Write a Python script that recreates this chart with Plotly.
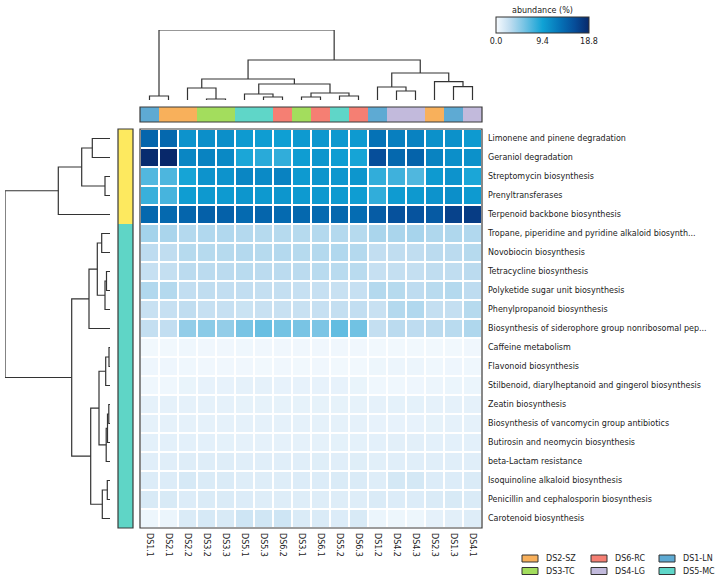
import plotly.graph_objects as go

W, H = 715, 579

# ---------------- data ----------------
col_labels = ["DS1.1", "DS2.1", "DS2.2", "DS3.2", "DS3.3", "DS5.1", "DS5.3", "DS6.2", "DS3.1",
              "DS6.1", "DS5.2", "DS6.3", "DS1.2", "DS4.2", "DS4.3", "DS2.3", "DS1.3", "DS4.1"]

row_labels = [
    "Limonene and pinene degradation",
    "Geraniol degradation",
    "Streptomycin biosynthesis",
    "Prenyltransferases",
    "Terpenoid backbone biosynthesis",
    "Tropane, piperidine and pyridine alkaloid biosynth...",
    "Novobiocin biosynthesis",
    "Tetracycline biosynthesis",
    "Polyketide sugar unit biosynthesis",
    "Phenylpropanoid biosynthesis",
    "Biosynthesis of siderophore group nonribosomal pep...",
    "Caffeine metabolism",
    "Flavonoid biosynthesis",
    "Stilbenoid, diarylheptanoid and gingerol biosynthesis",
    "Zeatin biosynthesis",
    "Biosynthesis of vancomycin group antibiotics",
    "Butirosin and neomycin biosynthesis",
    "beta-Lactam resistance",
    "Isoquinoline alkaloid biosynthesis",
    "Penicillin and cephalosporin biosynthesis",
    "Carotenoid biosynthesis",
]

limonene      = [14.0, 13.8, 10.5, 10.8, 10.8, 10.0, 9.8, 9.6, 10.0, 10.2, 10.1, 10.0, 13.0, 12.0, 11.8, 10.7, 10.7, 10.0]
geraniol      = [18.5, 18.8, 11.5, 11.7, 11.3, 9.0, 8.5, 8.2, 9.8, 10.3, 9.8, 9.2, 15.8, 13.8, 14.2, 11.7, 10.8, 10.7]
streptomycin  = [7.0, 7.2, 9.2, 10.5, 10.5, 11.5, 11.2, 11.8, 10.0, 10.4, 10.2, 10.3, 8.2, 7.7, 7.1, 10.0, 10.5, 9.0]
prenyltrans   = [7.9, 7.4, 9.8, 10.1, 10.0, 10.3, 10.1, 10.3, 10.0, 10.1, 10.0, 9.8, 8.2, 9.9, 10.1, 10.5, 10.8, 10.0]
terpenoid     = [13.8, 13.7, 14.0, 14.4, 14.3, 13.6, 14.0, 13.6, 13.8, 13.6, 13.8, 13.5, 14.7, 15.6, 15.4, 14.9, 16.8, 17.2]
tropane       = [3.9, 3.7, 3.3, 3.4, 3.4, 3.3, 3.2, 3.2, 3.2, 3.3, 3.3, 3.2, 3.7, 3.7, 3.8, 3.5, 3.5, 3.4]
novobiocin    = [2.9, 2.8, 3.2, 3.2, 3.2, 3.3, 3.2, 3.3, 3.2, 3.3, 3.4, 3.3, 2.7, 2.8, 2.8, 3.0, 3.0, 3.2]
tetracycline  = [2.5, 2.6, 3.0, 3.0, 3.0, 3.1, 3.0, 3.0, 3.0, 3.1, 3.1, 3.1, 2.5, 2.6, 2.6, 2.8, 2.8, 3.0]
polyketide    = [3.4, 3.3, 2.7, 2.8, 2.7, 2.7, 2.6, 2.6, 2.5, 2.5, 2.4, 2.5, 3.3, 3.2, 2.9, 3.1, 3.3, 2.9]
phenylprop    = [2.4, 2.5, 2.8, 2.5, 2.5, 2.3, 2.4, 2.4, 2.4, 2.5, 2.6, 2.7, 2.4, 3.3, 3.4, 2.6, 2.6, 3.2]
siderophore   = [2.6, 2.7, 4.6, 4.9, 4.6, 5.6, 6.2, 5.8, 5.6, 5.5, 6.4, 5.9, 2.6, 3.0, 2.9, 3.0, 3.1, 3.5]
caffeine      = [0.3, 0.3, 0.4, 0.35, 0.35, 0.4, 0.35, 0.35, 0.35, 0.35, 0.35, 0.35, 0.3, 0.3, 0.3, 0.3, 0.3, 0.35]
flavonoid     = [0.45, 0.45, 0.4, 0.35, 0.35, 0.35, 0.3, 0.35, 0.3, 0.35, 0.3, 0.3, 0.5, 0.55, 0.55, 0.4, 0.45, 0.4]
stilbenoid    = [0.4, 0.4, 0.7, 0.8, 0.8, 0.9, 0.9, 0.8, 0.8, 0.8, 0.8, 0.7, 0.4, 0.4, 0.45, 0.55, 0.6, 0.6]
zeatin        = [0.9, 0.9, 0.9, 0.9, 0.9, 0.85, 0.85, 0.85, 0.85, 0.85, 0.85, 0.85, 0.9, 0.95, 0.95, 0.9, 0.9, 0.9]
vancomycin    = [0.9, 0.9, 0.9, 0.9, 0.9, 0.9, 0.9, 0.9, 0.9, 0.9, 0.9, 0.9, 0.8, 0.8, 0.8, 0.85, 0.9, 0.9]
butirosin     = [1.0, 1.0, 1.0, 1.0, 0.95, 0.9, 0.9, 0.9, 0.9, 0.9, 0.95, 0.95, 1.0, 1.1, 1.1, 1.0, 1.0, 1.0]
betalactam    = [1.2, 1.2, 1.3, 1.3, 1.3, 1.2, 1.2, 1.2, 1.2, 1.25, 1.2, 1.25, 1.15, 1.2, 1.2, 1.2, 1.2, 1.2]
isoquinoline  = [1.4, 1.4, 1.7, 1.5, 1.5, 1.3, 1.3, 1.3, 1.4, 1.4, 1.5, 1.5, 1.3, 1.8, 1.8, 1.4, 1.4, 1.5]
penicillin    = [1.6, 1.6, 1.4, 1.5, 1.5, 1.4, 1.3, 1.3, 1.3, 1.3, 1.3, 1.3, 1.5, 1.4, 1.4, 1.5, 1.6, 1.5]
carotenoid    = [0.5, 0.6, 1.5, 1.7, 1.6, 2.1, 2.0, 2.1, 1.5, 1.5, 1.4, 1.6, 0.6, 0.5, 0.5, 0.9, 1.1, 1.3]

group_names = ["DS1-LN", "DS2-SZ", "DS3-TC", "DS4-LG", "DS5-MC", "DS6-RC"]
group_colors = ["#5eaad3", "#f8b05b", "#a3dd5d", "#c2badc", "#5fd6c8", "#f57f73"]
legend_order = ["DS2-SZ", "DS3-TC", "DS6-RC", "DS4-LG", "DS1-LN", "DS5-MC"]

row_cluster = [0] * 5 + [1] * 16
row_cluster_colors = ["#fde95f", "#5fd5c6"]

cbar_ticks = [0.0, 9.4, 18.8]

# linkage (child a, child b, merge height); leaves in displayed order, new nodes n, n+1, ...
col_link = [
    (3, 4, 1), (6, 7, 3), (8, 9, 3), (0, 1, 4), (10, 11, 4), (5, 19, 6), (20, 22, 7),
    (13, 14, 9), (2, 18, 12), (12, 25, 13), (16, 17, 13.3), (23, 24, 16), (15, 28, 18.3),
    (26, 29, 21), (27, 30, 27), (31, 32, 40), (21, 33, 70),
]
row_link = [
    (11, 12, 1), (14, 15, 1.2), (22, 16, 2.5), (7, 8, 3.5), (18, 19, 2.7), (23, 17, 3.8),
    (2, 3, 5), (24, 9, 5), (21, 13, 4.3), (5, 6, 8.3), (25, 20, 7.7), (29, 26, 11),
    (30, 28, 12.7), (0, 1, 17.7), (32, 31, 19.3), (33, 10, 21), (34, 27, 28.3),
    (36, 35, 38.3), (37, 4, 51.7), (38, 39, 105),
]

values = [limonene, geraniol, streptomycin, prenyltrans, terpenoid, tropane, novobiocin,
          tetracycline, polyketide, phenylprop, siderophore, caffeine, flavonoid, stilbenoid,
          zeatin, vancomycin, butirosin, betalactam, isoquinoline, penicillin, carotenoid]

# ---------------- helpers ----------------
def fx(p):
    return p / W


def fy(p):
    return 1 - p / H


def dendro(link, n):
    pos = {i: float(i) for i in range(n)}
    hgt = {i: 0.0 for i in range(n)}
    ps, hs = [], []
    for k, (a, b, h) in enumerate(link):
        pa, pb, ha, hb = pos[a], pos[b], hgt[a], hgt[b]
        ps += [pa, pa, pb, pb, None]
        hs += [ha, h, h, hb, None]
        pos[n + k] = (pa + pb) / 2
        hgt[n + k] = h
    return ps, hs


FONT = "DejaVu Sans"
TXT = "#222222"
ncol, nrow = len(col_labels), len(row_labels)

blues = [[0.0, "#f7fbff"], [0.15, "#c0ddf0"], [0.3, "#78c4e4"], [0.5, "#10a2d5"],
         [0.7, "#0570b5"], [0.85, "#064c98"], [1.0, "#08286a"]]

fig = go.Figure()

# main heatmap
fig.add_trace(go.Heatmap(
    z=values, x=list(range(ncol)), y=list(range(nrow)),
    colorscale=blues, zmin=cbar_ticks[0], zmax=cbar_ticks[-1],
    xgap=2, ygap=2, xaxis="x", yaxis="y",
    colorbar=dict(
        orientation="h", x=fx(542.5), xanchor="center", y=fy(17), yanchor="top",
        len=93, lenmode="pixels", thickness=16, thicknessmode="pixels",
        outlinecolor="#333333", outlinewidth=1, xpad=0, ypad=0,
        tickvals=cbar_ticks, ticktext=[f"{v:.1f}" for v in cbar_ticks],
        ticks="", tickfont=dict(family=FONT, size=8, color=TXT),
    ),
))

# column group strip
def gidx(lbl):
    return int(lbl[2]) - 1

ng = len(group_names)
disc = []
for k, c in enumerate(group_colors):
    disc += [[k / ng, c], [(k + 1) / ng, c]]
fig.add_trace(go.Heatmap(
    z=[[gidx(c) for c in col_labels]], x=list(range(ncol)), y=[0],
    colorscale=disc, zmin=-0.5, zmax=ng - 0.5, showscale=False,
    xaxis="x2", yaxis="y2", hoverinfo="skip",
))

# row cluster strip
rdisc = [[0, row_cluster_colors[0]], [0.5, row_cluster_colors[0]],
         [0.5, row_cluster_colors[1]], [1, row_cluster_colors[1]]]
fig.add_trace(go.Heatmap(
    z=[[c] for c in row_cluster], x=[0], y=list(range(nrow)),
    colorscale=rdisc, zmin=-0.5, zmax=1.5, showscale=False,
    xaxis="x3", yaxis="y3", hoverinfo="skip",
))

# dendrograms
cp, ch = dendro(col_link, ncol)
fig.add_trace(go.Scatter(x=cp, y=ch, mode="lines", line=dict(color="#333333", width=1.2),
                         xaxis="x4", yaxis="y4", hoverinfo="skip", showlegend=False,
                         cliponaxis=False))
rp, rh = dendro(row_link, nrow)
fig.add_trace(go.Scatter(x=rh, y=rp, mode="lines", line=dict(color="#333333", width=1.2),
                         xaxis="x5", yaxis="y5", hoverinfo="skip", showlegend=False,
                         cliponaxis=False))

hm_x = [fx(140), fx(482)]
hm_y = [fy(528), fy(129)]
hidden = dict(showgrid=False, zeroline=False, showticklabels=False, ticks="", showline=False)

fig.update_layout(
    width=W, height=H, margin=dict(l=0, r=0, t=0, b=0, autoexpand=False),
    paper_bgcolor="white", plot_bgcolor="white", showlegend=False,
    font=dict(family=FONT, size=8, color=TXT),
    xaxis=dict(domain=hm_x, range=[-0.5, ncol - 0.5], tickvals=list(range(ncol)),
               ticktext=col_labels, tickangle=90, ticks="", ticklabelstandoff=4,
               showgrid=False, zeroline=False, tickfont=dict(size=8, color=TXT)),
    yaxis=dict(domain=hm_y, range=[nrow - 0.5, -0.5], tickvals=list(range(nrow)),
               ticktext=row_labels, side="right", ticks="", ticklabelstandoff=5,
               showgrid=False, zeroline=False, tickfont=dict(size=8, color=TXT)),
    xaxis2=dict(domain=hm_x, range=[-0.5, ncol - 0.5], anchor="y2", **hidden),
    yaxis2=dict(domain=[fy(122), fy(107)], range=[-0.5, 0.5], anchor="x2", **hidden),
    xaxis3=dict(domain=[fx(118), fx(133)], range=[-0.5, 0.5], anchor="y3", **hidden),
    yaxis3=dict(domain=hm_y, range=[nrow - 0.5, -0.5], anchor="x3", **hidden),
    xaxis4=dict(domain=hm_x, range=[-0.5, ncol - 0.5], anchor="y4", **hidden),
    yaxis4=dict(domain=[fy(100), fy(30)], range=[0, 70], anchor="x4", **hidden),
    xaxis5=dict(domain=[fx(5), fx(110)], range=[105, 0], anchor="y5", **hidden),
    yaxis5=dict(domain=hm_y, range=[nrow - 0.5, -0.5], anchor="x5", **hidden),
)

shapes = []
for ax in ["", "2", "3"]:
    shapes.append(dict(type="rect", xref=f"x{ax} domain", yref=f"y{ax} domain",
                       x0=0, x1=1, y0=0, y1=1, line=dict(color="#3a3a3a", width=1.2),
                       fillcolor="rgba(0,0,0,0)"))

annotations = [dict(text="abundance (%)", x=fx(542.5), y=fy(10), xref="paper", yref="paper",
                    showarrow=False, xanchor="center", yanchor="middle",
                    font=dict(family=FONT, size=8, color=TXT))]

# legend (3 columns x 2 rows)
leg_cols = [522, 591, 659]
leg_rows = [558.5, 571]
for i, name in enumerate(legend_order):
    cx = leg_cols[i // 2]
    cy = leg_rows[i % 2]
    col = group_colors[group_names.index(name)]
    shapes.append(dict(type="rect", xref="paper", yref="paper",
                       x0=fx(cx), x1=fx(cx + 16), y0=fy(cy + 3.5), y1=fy(cy - 3.5),
                       fillcolor=col, line=dict(color="#333333", width=1)))
    annotations.append(dict(text=name, x=fx(cx + 22), y=fy(cy), xref="paper", yref="paper",
                            showarrow=False, xanchor="left", yanchor="middle",
                            font=dict(family=FONT, size=8, color=TXT)))

fig.update_layout(shapes=shapes, annotations=annotations)
fig.write_html("out.html", config={"displayModeBar": False},
               post_script="document.body.style.margin='0';document.body.style.overflow='hidden';")
